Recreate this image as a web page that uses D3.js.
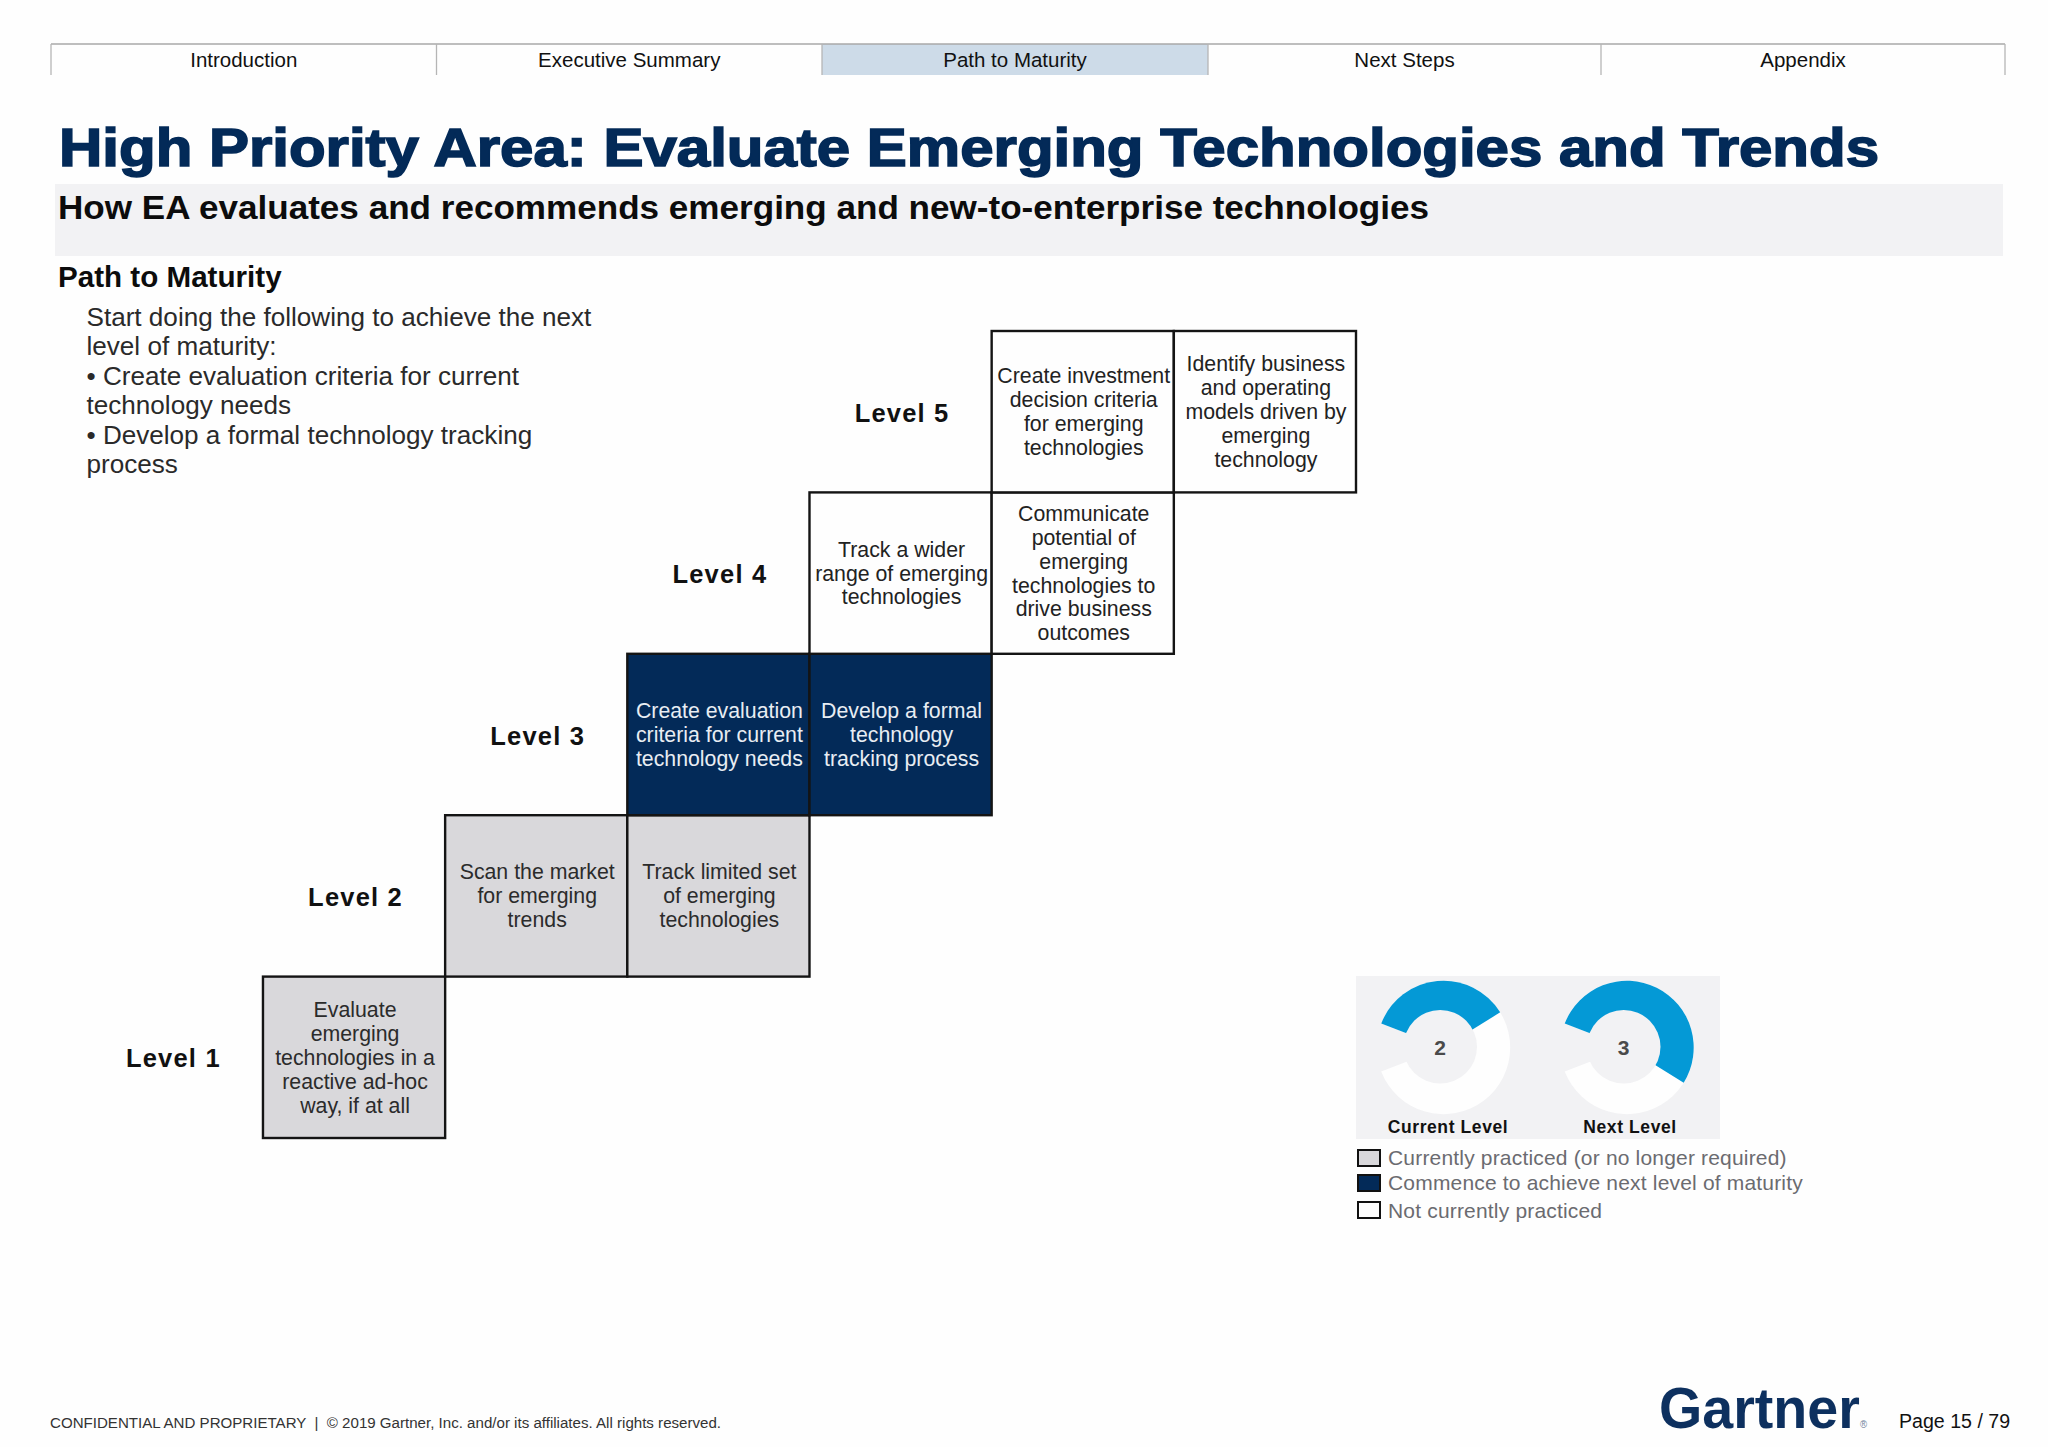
<!DOCTYPE html>
<html>
<head>
<meta charset="utf-8">
<script src="https://cdnjs.cloudflare.com/ajax/libs/d3/7.8.5/d3.min.js"></script>
<style>
  html, body { margin: 0; padding: 0; background: #fefefe; }
  svg { display: block; }
  text { font-family: "Liberation Sans", Arial, sans-serif; }
</style>
</head>
<body>
<div id="root"></div>
<script>
const width = 2048;
const height = 1447;

// nav
const tabNames = ['Introduction', 'Executive Summary', 'Path to Maturity', 'Next Steps', 'Appendix'];
const activeTab = 'Path to Maturity';

// headings
const titleText = 'High Priority Area: Evaluate Emerging Technologies and Trends';
const subtitleText = 'How EA evaluates and recommends emerging and new-to-enterprise technologies';
const sectionText = 'Path to Maturity';
const introLines = [
  'Start doing the following to achieve the next',
  'level of maturity:',
  '\u2022 Create evaluation criteria for current',
  'technology needs',
  '\u2022 Develop a formal technology tracking',
  'process',
];

// staircase
const levels = [1, 2, 3, 4, 5];
const cellLevel = [1, 2, 2, 3, 3, 4, 4, 5, 5];
const cellColumn = [1, 2, 3, 3, 4, 4, 5, 5, 6];
const cellState = ['done', 'done', 'done', 'next', 'next', 'open', 'open', 'open', 'open'];
const cellLines = [
  ['Evaluate', 'emerging', 'technologies in a', 'reactive ad-hoc', 'way, if at all'],
  ['Scan the market', 'for emerging', 'trends'],
  ['Track limited set', 'of emerging', 'technologies'],
  ['Create evaluation', 'criteria for current', 'technology needs'],
  ['Develop a formal', 'technology', 'tracking process'],
  ['Track a wider', 'range of emerging', 'technologies'],
  ['Communicate', 'potential of', 'emerging', 'technologies to', 'drive business', 'outcomes'],
  ['Create investment', 'decision criteria', 'for emerging', 'technologies'],
  ['Identify business', 'and operating', 'models driven by', 'emerging', 'technology'],
];

// gauges
const gaugeNames = ['Current Level', 'Next Level'];
const gaugeValues = [2, 3];
const maxLevel = 5;

// legend
const legendStates = ['done', 'next', 'open'];
const legendLabels = [
  'Currently practiced (or no longer required)',
  'Commence to achieve next level of maturity',
  'Not currently practiced',
];

const footerText = 'CONFIDENTIAL AND PROPRIETARY  |  \u00A9 2019 Gartner, Inc. and/or its affiliates. All rights reserved.';
const pageText = 'Page 15 / 79';

const navy = '#032a58';
const panel = '#f2f2f4';
const stateFill = {done: '#d9d8db', next: navy, open: '#fefefe'};
const stateText = {done: '#2b2b2b', next: '#e8edf3', open: '#222'};

const svg = d3.select('#root').append('svg').attr('width', width).attr('height', height);
svg.append('rect').attr('width', width).attr('height', height).attr('fill', '#fefefe');

// ---- tabs
const tabEdges = [51, 436.5, 822, 1208, 1601, 2005];
const tabTop = 44;
const tabBottom = 75;
const activeIndex = tabNames.indexOf(activeTab);
svg.append('rect')
  .attr('x', tabEdges[activeIndex]).attr('y', tabTop)
  .attr('width', tabEdges[activeIndex + 1] - tabEdges[activeIndex]).attr('height', tabBottom - tabTop)
  .attr('fill', '#cddbe8');
svg.append('path')
  .attr('d', d3.line()([[tabEdges[0], tabTop], [tabEdges[5], tabTop]]))
  .attr('stroke', '#a9a9a9').attr('stroke-width', 1.5);
svg.selectAll('.tabEdge').data(tabEdges).enter().append('line')
  .attr('class', 'tabEdge')
  .attr('x1', d => d).attr('x2', d => d)
  .attr('y1', tabTop).attr('y2', tabBottom)
  .attr('stroke', '#b5b5b5').attr('stroke-width', 1.3);
svg.selectAll('.tabName').data(tabNames).enter().append('text')
  .attr('class', 'tabName')
  .attr('x', (d, i) => (tabEdges[i] + tabEdges[i + 1]) / 2)
  .attr('y', 67)
  .attr('text-anchor', 'middle')
  .attr('font-size', 20.5)
  .attr('fill', '#111')
  .text(d => d);

// ---- headings
svg.append('rect').attr('x', 55).attr('y', 184).attr('width', 1948).attr('height', 72).attr('fill', panel);
svg.append('text')
  .attr('x', 59).attr('y', 166)
  .attr('font-size', 53).attr('font-weight', 700).attr('fill', navy)
  .attr('stroke', navy).attr('stroke-width', 1.6)
  .attr('textLength', 1820).attr('lengthAdjust', 'spacingAndGlyphs')
  .text(titleText);
svg.append('text')
  .attr('x', 58).attr('y', 219)
  .attr('font-size', 33.5).attr('font-weight', 700).attr('fill', '#0c0c0c')
  .attr('textLength', 1371).attr('lengthAdjust', 'spacingAndGlyphs')
  .text(subtitleText);
svg.append('text')
  .attr('x', 58).attr('y', 287)
  .attr('font-size', 29.6).attr('font-weight', 700).attr('fill', '#0c0c0c')
  .text(sectionText);
svg.selectAll('.intro').data(introLines).enter().append('text')
  .attr('class', 'intro')
  .attr('x', 86.5)
  .attr('y', (d, i) => 326 + i * 29.4)
  .attr('font-size', 26.1)
  .attr('fill', '#2a2a2a')
  .text(d => d);

// ---- staircase
const x = d3.scaleLinear().domain([0, 7]).range([80.8, 1356]);
const y = d3.scaleLinear().domain([0, 5]).range([1138, 331]);
const columnWidth = x(1) - x(0);
const rowHeight = y(0) - y(1);
const lineGap = 23.9;

const cells = svg.selectAll('.cell').data(cellLevel).enter().append('g')
  .attr('class', 'cell')
  .attr('transform', (d, i) => `translate(${x(cellColumn[i])},${y(d)})`);
cells.append('rect')
  .attr('width', columnWidth)
  .attr('height', rowHeight)
  .attr('fill', (d, i) => stateFill[cellState[i]])
  .attr('stroke', '#141414')
  .attr('stroke-width', 2.4);
cells.each(function (d, i) {
  const lines = cellLines[i];
  d3.select(this).selectAll('text').data(lines).enter().append('text')
    .attr('x', columnWidth / 2 + 1)
    .attr('y', (t, j) => rowHeight / 2 + 7.5 + (j - (lines.length - 1) / 2) * lineGap)
    .attr('text-anchor', 'middle')
    .attr('font-size', 21.3)
    .attr('fill', stateText[cellState[i]])
    .text(t => t);
});

svg.selectAll('.levelName').data(levels).enter().append('text')
  .attr('class', 'levelName')
  .attr('x', d => x(d - 1) + columnWidth / 2 + 1.5)
  .attr('y', d => y(d) + rowHeight / 2 + 10)
  .attr('text-anchor', 'middle')
  .attr('font-size', 25.5)
  .attr('font-weight', 700)
  .attr('letter-spacing', 1.2)
  .attr('fill', '#111')
  .text(d => `Level ${d}`);

// ---- gauges
svg.append('rect').attr('x', 1356).attr('y', 976).attr('width', 364).attr('height', 163).attr('fill', panel);
const gaugeX = d3.scaleBand().domain(gaugeNames).range([1351.75, 1718.75]);
const gaugeAngle = d3.scaleLinear().domain([0, maxLevel]).range([-69, 249].map(d => d * Math.PI / 180));
const gaugeArc = d3.arc().innerRadius(0).outerRadius(66.7);
const gauges = svg.selectAll('.gauge').data(gaugeNames).enter().append('g')
  .attr('class', 'gauge')
  .attr('transform', d => `translate(${gaugeX(d) + gaugeX.bandwidth() / 2},1047.5)`);
gauges.append('path')
  .attr('fill', '#fefefe')
  .attr('d', () => gaugeArc({startAngle: gaugeAngle(0), endAngle: gaugeAngle(maxLevel)}));
gauges.append('path')
  .attr('fill', '#0499d6')
  .attr('d', (d, i) => gaugeArc({startAngle: gaugeAngle(0), endAngle: gaugeAngle(gaugeValues[i])}));
// hole sits a little left of the ring centre in the reference
gauges.append('circle')
  .attr('cx', -3.3).attr('cy', -0.7).attr('r', 36.8)
  .attr('fill', panel);
gauges.append('text')
  .attr('x', -3.4)
  .attr('y', 7)
  .attr('text-anchor', 'middle')
  .attr('font-size', 21)
  .attr('font-weight', 700)
  .attr('fill', '#4a4a4a')
  .text((d, i) => gaugeValues[i]);
gauges.append('text')
  .attr('x', (d, i) => [4.5, 3][i])
  .attr('y', 85.5)
  .attr('text-anchor', 'middle')
  .attr('font-size', 17.5)
  .attr('font-weight', 700)
  .attr('letter-spacing', 0.6)
  .attr('fill', '#111')
  .text(d => d);

// ---- legend
const legendY = d3.scaleOrdinal().domain(legendStates).range([1150, 1175, 1202]);
svg.selectAll('.swatch').data(legendStates).enter().append('rect')
  .attr('class', 'swatch')
  .attr('x', 1358).attr('y', d => legendY(d))
  .attr('width', 22).attr('height', 16)
  .attr('fill', d => stateFill[d])
  .attr('stroke', '#111').attr('stroke-width', 2);
svg.selectAll('.legendLabel').data(legendLabels).enter().append('text')
  .attr('class', 'legendLabel')
  .attr('x', 1388)
  .attr('y', (d, i) => legendY(legendStates[i]) + (i === 2 ? 16 : 15))
  .attr('font-size', 21)
  .attr('letter-spacing', 0.18)
  .attr('fill', '#6b6b70')
  .text(d => d);

// ---- footer
svg.append('text')
  .attr('x', 50).attr('y', 1428)
  .attr('font-size', 15.1).attr('fill', '#333')
  .attr('xml:space', 'preserve').style('white-space', 'pre')
  .text(footerText);
// logo squeezed with a transform so its box really ends before the page number
const logo = svg.append('text')
  .attr('font-family', 'Inter').attr('font-size', 58).attr('font-weight', 800)
  .attr('fill', '#0d305f');
logo.append('tspan').text('Gartner');
logo.append('tspan').attr('font-size', 10).attr('font-weight', 400).attr('fill', '#6c7f99').text('\u00AE');
logo.attr('transform', `translate(1659,1428) scale(${208 / logo.node().getComputedTextLength()},1)`);
svg.append('text')
  .attr('x', 1899).attr('y', 1428)
  .attr('font-size', 19.6).attr('fill', '#111')
  .text(pageText);
</script>
</body>
</html>
